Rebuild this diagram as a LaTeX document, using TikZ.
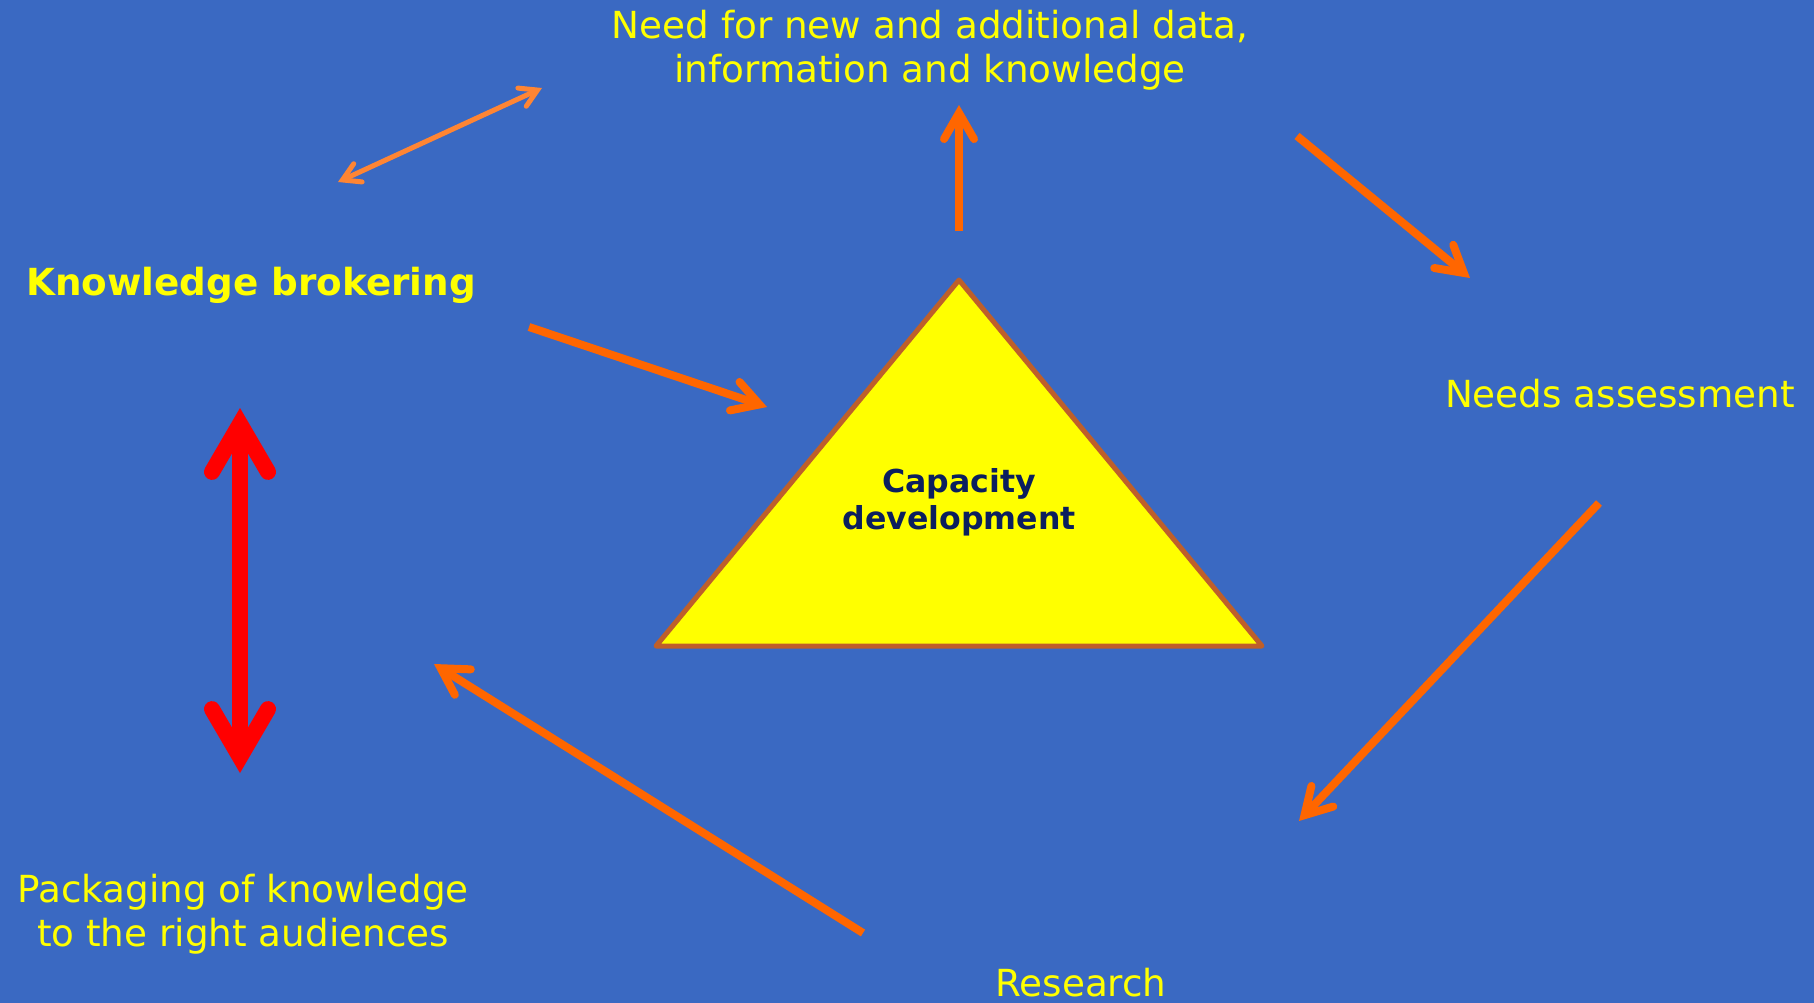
\documentclass[tikz,border=0pt]{standalone}
\usepackage{fontspec}
\setmainfont{DejaVu Sans}
\usetikzlibrary{arrows.meta}
\definecolor{bg}{HTML}{3A69C2}
\definecolor{arr}{HTML}{FF6600}
\definecolor{arrlight}{HTML}{FF8533}
\definecolor{tribord}{HTML}{BE5F2A}
\definecolor{navy}{HTML}{0B1F5E}
\definecolor{txt}{HTML}{FFFF00}
\definecolor{trifill}{HTML}{FFFF00}
\begin{document}
\begin{tikzpicture}[x=1pt,y=-1pt,
  lbl/.style={text=txt, font=\fontsize{37.3}{44}\selectfont, inner sep=0pt, anchor=base, align=center},
  orarrow/.style={draw=arr, line width=8pt,
    -{Straight Barb[length=26pt,width=30pt,line cap=round,line join=miter]}},
  thinarrow/.style={draw=arrlight, line width=5pt,
    {Straight Barb[length=17pt,width=20pt,line cap=round,line join=miter]}-{Straight Barb[length=17pt,width=20pt,line cap=round,line join=miter]}},
  redarrow/.style={draw=red, line width=16pt,
    {Straight Barb[length=48pt,width=56pt,line cap=round,line join=miter]}-{Straight Barb[length=48pt,width=56pt,line cap=round,line join=miter]}}
]
\fill[bg] (0,0) rectangle (1814,1003);
\useasboundingbox (0,0) rectangle (1814,1003);

% triangle
\coordinate (tA) at (959,280);
\coordinate (tL) at (656,646);
\coordinate (tR) at (1262,646);
\filldraw[fill=trifill, draw=tribord, line width=5pt, line join=round] (tA) -- (tL) -- (tR) -- cycle;
\node[text=navy, font=\bfseries\fontsize{31.6}{37}\selectfont, inner sep=0pt, anchor=base, align=center] (cap) at (959,529) {Capacity\\development};

% labels
\node[lbl] (need) at (930,83) {Need for new and additional data,\\information and knowledge};
\node[lbl, font=\bfseries\fontsize{37.3}{44}\selectfont] (kb) at (251,295) {Knowledge brokering};
\node[lbl] (na) at (1620,407) {Needs assessment};
\node[lbl] (pack) at (243,946) {Packaging of knowledge\\to the right audiences};
\node[lbl] (res) at (1081,996) {Research};

% arrow end points
\coordinate (a1s) at (338,182); \coordinate (a1e) at (542,88);
\coordinate (a2s) at (529,327); \coordinate (a2e) at (767,407);
\coordinate (a3s) at (959,231); \coordinate (a3e) at (959,105);
\coordinate (a4s) at (1297,136); \coordinate (a4e) at (1470,278);
\coordinate (a5s) at (1599,503); \coordinate (a5e) at (1299,821);
\coordinate (a6s) at (863,933); \coordinate (a6e) at (434,664);
\coordinate (a7s) at (240,408); \coordinate (a7e) at (240,773);

\draw[thinarrow] (a1s) -- (a1e);
\draw[orarrow] (a2s) -- (a2e);
\draw[orarrow] (a3s) -- (a3e);
\draw[orarrow] (a4s) -- (a4e);
\draw[orarrow] (a5s) -- (a5e);
\draw[orarrow] (a6s) -- (a6e);
\draw[redarrow] (a7s) -- (a7e);
\end{tikzpicture}
\end{document}
